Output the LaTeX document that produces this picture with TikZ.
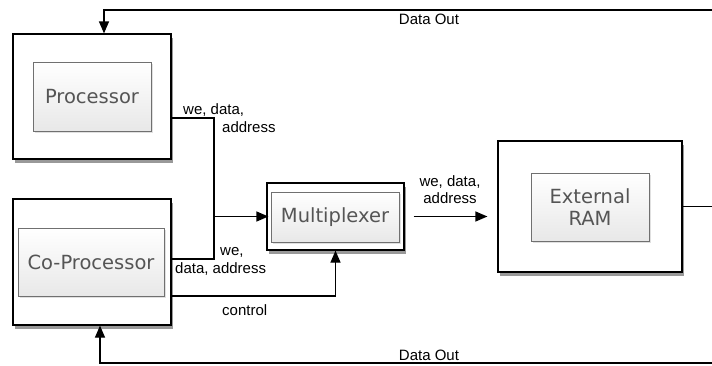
\documentclass[tikz,border=0pt]{standalone}
\usepackage{fontspec}
\setmainfont{Liberation Sans}
\newfontfamily\boxfont{DejaVu Sans}
\usetikzlibrary{positioning,calc,arrows.meta,shadows}
\definecolor{boxtext}{HTML}{555555}
\definecolor{boxedge}{HTML}{707070}
\tikzset{
  outerbox/.style={draw=black, line width=1.2pt, fill=white, inner sep=0pt,
    drop shadow={shadow xshift=2pt, shadow yshift=-4pt, opacity=0.4, fill=black}},
  innerbox/.style={draw=boxedge, line width=0.8pt, top color=white, bottom color=black!9,
    inner sep=0pt, align=center, text=boxtext, font=\boxfont\fontsize{19.5}{22}\selectfont,
    drop shadow={shadow xshift=1.5pt, shadow yshift=-1.5pt, opacity=0.12, fill=black}},
  conn/.style={line width=1.2pt, draw=black},
  arr/.style={conn, -{Triangle[length=12pt,width=10pt]}},
  lbl/.style={inner sep=0pt, font=\fontsize{15}{17}\selectfont}
}

\begin{document}
\begin{tikzpicture}[x=1pt, y=-1pt]
    \useasboundingbox (0,0) rectangle (712,365);

    % Processor
    \node[outerbox, minimum width=158pt, minimum height=125pt] (procout) at (92,96.5) {};
    \node[innerbox, minimum width=118pt, minimum height=69pt] (proc) at (92,96.5) {Processor};

    % Co-Processor
    \node[outerbox, minimum width=158pt, minimum height=126pt] (coprocout) at (92,262) {};
    \node[innerbox, minimum width=146pt, minimum height=68pt] (coproc) at (91,262) {Co-Processor};

    % Multiplexer
    \node[outerbox, minimum width=137pt, minimum height=67pt] (muxout) at (335.5,216.5) {};
    \node[innerbox, minimum width=128pt, minimum height=50pt] (mux) at (335,217) {Multiplexer};

    % External RAM
    \node[outerbox, minimum width=184pt, minimum height=131pt] (ramout) at (590,206.5) {};
    \node[innerbox, minimum width=118pt, minimum height=68pt] (ram) at (590,207) {External\\RAM};

    % free ends
    \coordinate (join) at (214,216.5);
    \coordinate (ramend) at (712,206.5);
    \coordinate (topend) at (712,10);
    \coordinate (botend) at (712,363);

    % buses into the multiplexer
    \draw[conn] ([yshift=-21.5pt]procout.east) -| (join);
    \draw[conn] ([yshift=3pt]coprocout.east) -| (join);
    \draw[arr] (join) -- ([xshift=2pt]join -| muxout.west);
    \draw[arr] ([yshift=-34pt]coprocout.east) -| (muxout.south);
    \draw[arr] ([xshift=9pt]muxout.east) -- ([xshift=-10pt]muxout.east -| ramout.west);

    % data out
    \draw[conn] (ramout.east) -- (ramend);
    \draw[arr] (topend) -| ([xshift=12pt]procout.north);
    \draw[arr] (botend) -| ([xshift=8pt]coprocout.south);

    % labels
    \node[lbl, anchor=west] (lproca) at (183,110) {we, data,};
    \node[lbl, anchor=west] (lprocb) at (222,127) {address};
    \node[lbl, anchor=west] (lcoa) at (220,252) {we,};
    \node[lbl, anchor=west] (lcob) at (175,269) {data, address};
    \node[lbl, anchor=west] (lctrl) at (222,310) {control};
    \node[lbl, align=center] (lmux) at (450,190) {we, data,\\address};
    \node[lbl] (ltop) at (429,19) {Data Out};
    \node[lbl] (lbot) at (429,355) {Data Out};
\end{tikzpicture}
\end{document}
